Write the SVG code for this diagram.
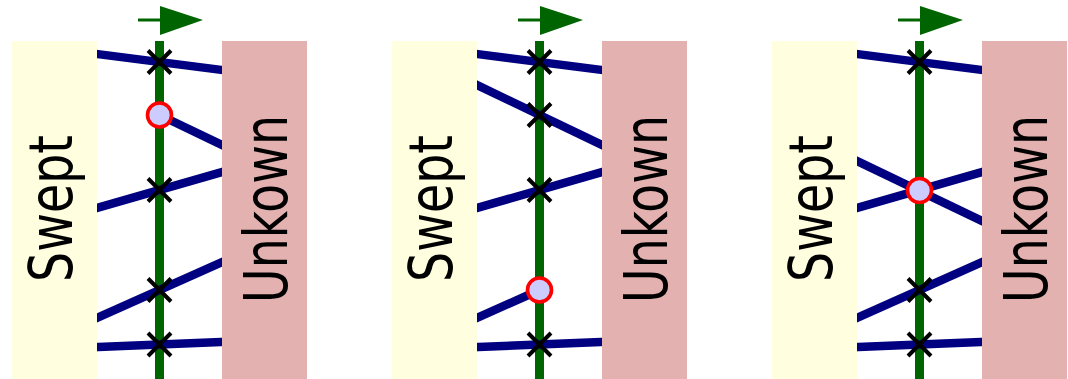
<svg xmlns="http://www.w3.org/2000/svg" xmlns:xlink="http://www.w3.org/1999/xlink" width="1068" height="379" viewBox="0 0 1068 379">
<style>
.swept{fill:#ffffe0}
.unk{fill:#e4b1b1}
.axis{stroke:#006400;stroke-width:9;fill:none}
.tail{stroke:#006400;stroke-width:3;fill:none}
.head{fill:#006400}
.seg{stroke:#000080;stroke-width:8.5;fill:none}
.xm{stroke:#000;stroke-width:4;fill:none}
.hit{fill:#ccccff;stroke:#ff0000;stroke-width:3.6}
.lbl{font-family:"DejaVu Sans",sans-serif;font-size:61px;fill:#000}
</style>
<defs>
<path id="x" class="xm" d="M-11.5,-11.5L11.5,11.5M-11.5,11.5L11.5,-11.5"/>
</defs>

<!-- Panel 1 -->
<g id="panel1">
  <g id="p1-sweep-line">
    <line class="axis" x1="159.5" y1="41" x2="159.5" y2="379"/>
    <line class="tail" x1="138" y1="20" x2="161" y2="20"/>
    <polygon class="head" points="160,6 203,20 160,35"/>
  </g>
  <g id="p1-connectors">
    <line class="seg" x1="92" y1="53.4" x2="227" y2="70.6"/>
    <line class="seg" x1="159.5" y1="115" x2="227" y2="147.4"/>
    <line class="seg" x1="92" y1="209.4" x2="227" y2="170.6"/>
    <line class="seg" x1="92" y1="320.2" x2="227" y2="259.8"/>
    <line class="seg" x1="92" y1="347.2" x2="227" y2="341.8"/>
  </g>
  <g id="p1-swept"><rect class="swept" x="12" y="41" width="85" height="338"/>
    <text class="lbl" transform="translate(72,208.5) rotate(-90)" text-anchor="middle" textLength="147" lengthAdjust="spacingAndGlyphs">Swept</text></g>
  <g id="p1-unknown"><rect class="unk" x="222" y="41" width="85" height="338"/>
    <text class="lbl" transform="translate(287,209) rotate(-90)" text-anchor="middle" textLength="188" lengthAdjust="spacingAndGlyphs">Unkown</text></g>
  <g id="p1-marks">
    <use xlink:href="#x" x="159.5" y="62"/>
    <use xlink:href="#x" x="159.5" y="190"/>
    <use xlink:href="#x" x="159.5" y="290"/>
    <use xlink:href="#x" x="159.5" y="344.5"/>
    <circle class="hit" cx="159.5" cy="115" r="12"/>
  </g>
</g>

<!-- Panel 2 -->
<g id="panel2" transform="translate(380,0)">
  <g id="p2-sweep-line">
    <line class="axis" x1="159.5" y1="41" x2="159.5" y2="379"/>
    <line class="tail" x1="138" y1="20" x2="161" y2="20"/>
    <polygon class="head" points="160,6 203,20 160,35"/>
  </g>
  <g id="p2-connectors">
    <line class="seg" x1="92" y1="53.4" x2="227" y2="70.6"/>
    <line class="seg" x1="92" y1="82.6" x2="227" y2="147.4"/>
    <line class="seg" x1="92" y1="209.4" x2="227" y2="170.6"/>
    <line class="seg" x1="92" y1="320.2" x2="159.5" y2="290"/>
    <line class="seg" x1="92" y1="347.2" x2="227" y2="341.8"/>
  </g>
  <g id="p2-swept"><rect class="swept" x="12" y="41" width="85" height="338"/>
    <text class="lbl" transform="translate(72,208.5) rotate(-90)" text-anchor="middle" textLength="147" lengthAdjust="spacingAndGlyphs">Swept</text></g>
  <g id="p2-unknown"><rect class="unk" x="222" y="41" width="85" height="338"/>
    <text class="lbl" transform="translate(287,209) rotate(-90)" text-anchor="middle" textLength="188" lengthAdjust="spacingAndGlyphs">Unkown</text></g>
  <g id="p2-marks">
    <use xlink:href="#x" x="159.5" y="62"/>
    <use xlink:href="#x" x="159.5" y="115"/>
    <use xlink:href="#x" x="159.5" y="190"/>
    <use xlink:href="#x" x="159.5" y="344.5"/>
    <circle class="hit" cx="159.5" cy="290" r="12"/>
  </g>
</g>

<!-- Panel 3 -->
<g id="panel3" transform="translate(760,0)">
  <g id="p3-sweep-line">
    <line class="axis" x1="159.5" y1="41" x2="159.5" y2="379"/>
    <line class="tail" x1="138" y1="20" x2="161" y2="20"/>
    <polygon class="head" points="160,6 203,20 160,35"/>
  </g>
  <g id="p3-connectors">
    <line class="seg" x1="92" y1="53.4" x2="227" y2="70.6"/>
    <line class="seg" x1="92" y1="158.6" x2="227" y2="223.4"/>
    <line class="seg" x1="92" y1="209.4" x2="227" y2="170.6"/>
    <line class="seg" x1="92" y1="320.2" x2="227" y2="259.8"/>
    <line class="seg" x1="92" y1="347.2" x2="227" y2="341.8"/>
  </g>
  <g id="p3-swept"><rect class="swept" x="12" y="41" width="85" height="338"/>
    <text class="lbl" transform="translate(72,208.5) rotate(-90)" text-anchor="middle" textLength="147" lengthAdjust="spacingAndGlyphs">Swept</text></g>
  <g id="p3-unknown"><rect class="unk" x="222" y="41" width="85" height="338"/>
    <text class="lbl" transform="translate(287,209) rotate(-90)" text-anchor="middle" textLength="188" lengthAdjust="spacingAndGlyphs">Unkown</text></g>
  <g id="p3-marks">
    <use xlink:href="#x" x="159.5" y="62"/>
    <use xlink:href="#x" x="159.5" y="290"/>
    <use xlink:href="#x" x="159.5" y="344.5"/>
    <circle class="hit" cx="159.5" cy="190.5" r="12"/>
  </g>
</g>
</svg>
